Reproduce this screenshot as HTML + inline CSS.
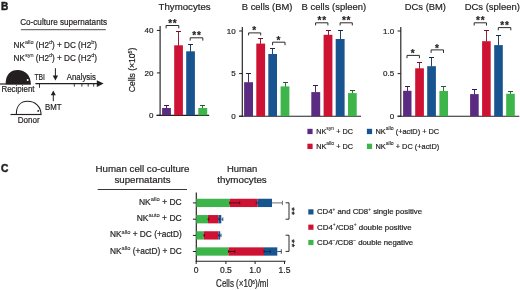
<!DOCTYPE html>
<html><head><meta charset="utf-8"><title>Figure</title>
<style>
html,body{margin:0;padding:0;background:#fff;}
body{width:520px;height:290px;overflow:hidden;font-family:"Liberation Sans",sans-serif;}
svg{display:block;}
text{font-family:"Liberation Sans",sans-serif;fill:#231f20;}
</style></head><body><div style="will-change:transform;width:520px;height:290px">
<svg width="520" height="290" viewBox="0 0 520 290">
<rect width="520" height="290" fill="#fff"/>
<text x="1.0" y="10.1" font-size="11.6" text-anchor="start" textLength="7.3" lengthAdjust="spacingAndGlyphs" stroke="#231f20" stroke-width="0.5" font-weight="bold">B</text>
<text x="20.2" y="25.2" font-size="8.5" text-anchor="start" textLength="86.8" lengthAdjust="spacingAndGlyphs" stroke="#231f20" stroke-width="0.2" >Co-culture supernatants</text>
<line x1="20.9" y1="29.7" x2="105.8" y2="29.7" stroke="#231f20" stroke-width="0.8"/>
<text x="13.6" y="47.9" font-size="8.5" text-anchor="start" textLength="83.5" lengthAdjust="spacingAndGlyphs" stroke="#231f20" stroke-width="0.2" >NK<tspan font-size="5.8" dy="-3.8" stroke-width="0.08">allo</tspan><tspan dy="3.8"> (H2</tspan><tspan font-size="5.8" dy="-3.8" stroke-width="0.08">d</tspan><tspan dy="3.8">) + DC (H2</tspan><tspan font-size="5.8" dy="-3.8" stroke-width="0.08">b</tspan><tspan dy="3.8">)</tspan></text>
<text x="13.6" y="61.2" font-size="8.5" text-anchor="start" textLength="83.5" lengthAdjust="spacingAndGlyphs" stroke="#231f20" stroke-width="0.2" >NK<tspan font-size="5.8" dy="-3.8" stroke-width="0.08">syn</tspan><tspan dy="3.8"> (H2</tspan><tspan font-size="5.8" dy="-3.8" stroke-width="0.08">d</tspan><tspan dy="3.8">) + DC (H2</tspan><tspan font-size="5.8" dy="-3.8" stroke-width="0.08">d</tspan><tspan dy="3.8">)</tspan></text>
<line x1="55.4" y1="68.2" x2="55.4" y2="77" stroke="#231f20" stroke-width="1.0"/>
<path d="M52.7,75.4 L55.4,80.5 L58.1,75.4 Z" fill="#231f20"/>
<line x1="35.4" y1="83.6" x2="98" y2="83.6" stroke="#231f20" stroke-width="1.1"/>
<path d="M96.8,80.3 L103.6,83.6 L96.8,86.9 Z" fill="#231f20"/>
<line x1="39.5" y1="83.6" x2="39.5" y2="87.8" stroke="#231f20" stroke-width="0.9"/>
<line x1="74.3" y1="83.6" x2="74.3" y2="86.6" stroke="#231f20" stroke-width="0.9"/>
<line x1="81.9" y1="83.6" x2="81.9" y2="86.6" stroke="#231f20" stroke-width="0.9"/>
<line x1="88.2" y1="83.6" x2="88.2" y2="86.6" stroke="#231f20" stroke-width="0.9"/>
<line x1="93.7" y1="83.6" x2="93.7" y2="86.6" stroke="#231f20" stroke-width="0.9"/>
<text x="34.4" y="80.3" font-size="8.5" text-anchor="start" textLength="10.6" lengthAdjust="spacingAndGlyphs" stroke="#231f20" stroke-width="0.2" >TBI</text>
<text x="66.8" y="80.3" font-size="8.5" text-anchor="start" textLength="29" lengthAdjust="spacingAndGlyphs" stroke="#231f20" stroke-width="0.2" >Analysis</text>
<path d="M5.6,84.2 C5.6,74.5 10.5,70.1 17.6,70.1 C25.2,70.1 30.8,75.5 30.8,84.2 Z" fill="#231f20"/>
<line x1="0" y1="84.0" x2="30.8" y2="84.0" stroke="#231f20" stroke-width="1.2"/>
<circle cx="27.7" cy="80" r="1" fill="#fff"/>
<text x="1.5" y="92.1" font-size="8.5" text-anchor="start" textLength="33" lengthAdjust="spacingAndGlyphs" stroke="#231f20" stroke-width="0.2" >Recipient</text>
<line x1="53.3" y1="94" x2="53.3" y2="101.2" stroke="#231f20" stroke-width="1.0"/>
<path d="M50.8,95.2 L53.3,90.6 L55.8,95.2 Z" fill="#231f20"/>
<text x="45.1" y="109.9" font-size="8.5" text-anchor="start" textLength="16.5" lengthAdjust="spacingAndGlyphs" stroke="#231f20" stroke-width="0.2" >BMT</text>
<path d="M16.3,114.5 C16.3,105.5 21,101.3 27.6,101.3 C35,101.3 41,106.2 41,114.5" fill="#fff" stroke="#231f20" stroke-width="1.05"/>
<line x1="10.5" y1="114.5" x2="41.5" y2="114.5" stroke="#231f20" stroke-width="1.15"/>
<circle cx="38.2" cy="110.9" r="0.95" fill="#231f20"/>
<text x="17.7" y="122.8" font-size="8.5" text-anchor="start" textLength="21.9" lengthAdjust="spacingAndGlyphs" stroke="#231f20" stroke-width="0.2" >Donor</text>
<text x="184.6" y="10.0" font-size="9.5" text-anchor="middle" textLength="52" lengthAdjust="spacingAndGlyphs" stroke="#231f20" stroke-width="0.2" >Thymocytes</text>
<text transform="translate(135.0,92.2) rotate(-90) scale(0.9217,1)" font-size="9.3" stroke="#231f20" stroke-width="0.2">Cells (×10<tspan font-size="5.5" dy="-3.2">6</tspan><tspan dy="3.2">)</tspan></text>
<line x1="160.1" y1="26.1" x2="160.1" y2="115.875" stroke="#231f20" stroke-width="1.15"/>
<line x1="156.9" y1="30.45" x2="160.1" y2="30.45" stroke="#231f20" stroke-width="1.0"/>
<text x="153.5" y="33.25" font-size="8" text-anchor="end" stroke="#231f20" stroke-width="0.2" >40</text>
<line x1="156.9" y1="72.9" x2="160.1" y2="72.9" stroke="#231f20" stroke-width="1.0"/>
<text x="153.5" y="75.7" font-size="8" text-anchor="end" stroke="#231f20" stroke-width="0.2" >20</text>
<line x1="156.9" y1="115.3" x2="160.1" y2="115.3" stroke="#231f20" stroke-width="1.0"/>
<text x="153.5" y="118.1" font-size="8" text-anchor="end" stroke="#231f20" stroke-width="0.2" >0</text>
<line x1="156.5" y1="115.3" x2="209.2" y2="115.3" stroke="#231f20" stroke-width="1.15"/>
<line x1="166.5" y1="105.5" x2="166.5" y2="108.5" stroke="#35184e" stroke-width="0.9"/>
<line x1="164.0" y1="105.5" x2="169.0" y2="105.5" stroke="#35184e" stroke-width="1"/>
<rect x="162.1" y="108" width="8.800000000000011" height="7.299999999999997" fill="#5b2b82"/>
<line x1="178.5" y1="31.5" x2="178.5" y2="45.8" stroke="#7a0f22" stroke-width="0.9"/>
<line x1="176.0" y1="31.5" x2="181.0" y2="31.5" stroke="#7a0f22" stroke-width="1"/>
<rect x="174.2" y="45.3" width="8.700000000000017" height="70.0" fill="#cd1233"/>
<line x1="190.5" y1="44.5" x2="190.5" y2="51.8" stroke="#0f2d52" stroke-width="0.9"/>
<line x1="188.0" y1="44.5" x2="193.0" y2="44.5" stroke="#0f2d52" stroke-width="1"/>
<rect x="186.2" y="51.3" width="8.700000000000017" height="64.0" fill="#185490"/>
<line x1="202.5" y1="105.5" x2="202.5" y2="108.5" stroke="#1f5c28" stroke-width="0.9"/>
<line x1="200.0" y1="105.5" x2="205.0" y2="105.5" stroke="#1f5c28" stroke-width="1"/>
<rect x="198.3" y="108" width="8.899999999999977" height="7.299999999999997" fill="#3db54a"/>
<path d="M166.1,28.3 V25.5 H178.8 V28.3" fill="none" stroke="#231f20" stroke-width="0.95"/>
<text x="172.85" y="27.0" font-size="10" text-anchor="middle" stroke="#231f20" stroke-width="0.2" font-weight="bold" letter-spacing="0.8">**</text>
<path d="M190.2,40.6 V37.8 H202.8 V40.6" fill="none" stroke="#231f20" stroke-width="0.95"/>
<text x="196.9" y="39.300000000000004" font-size="10" text-anchor="middle" stroke="#231f20" stroke-width="0.2" font-weight="bold" letter-spacing="0.8">**</text>
<text x="267.1" y="10.3" font-size="9.5" text-anchor="middle" textLength="50.6" lengthAdjust="spacingAndGlyphs" stroke="#231f20" stroke-width="0.2" >B cells (BM)</text>
<text x="333.9" y="10.3" font-size="9.5" text-anchor="middle" textLength="64.6" lengthAdjust="spacingAndGlyphs" stroke="#231f20" stroke-width="0.2" >B cells (spleen)</text>
<line x1="242.3" y1="26.9" x2="242.3" y2="116.775" stroke="#231f20" stroke-width="1.15"/>
<line x1="239.10000000000002" y1="31" x2="242.3" y2="31" stroke="#231f20" stroke-width="1.0"/>
<text x="235.70000000000002" y="33.8" font-size="8" text-anchor="end" stroke="#231f20" stroke-width="0.2" >10</text>
<line x1="239.10000000000002" y1="73.6" x2="242.3" y2="73.6" stroke="#231f20" stroke-width="1.0"/>
<text x="235.70000000000002" y="76.39999999999999" font-size="8" text-anchor="end" stroke="#231f20" stroke-width="0.2" >5</text>
<line x1="239.10000000000002" y1="116.2" x2="242.3" y2="116.2" stroke="#231f20" stroke-width="1.0"/>
<text x="235.70000000000002" y="119.0" font-size="8" text-anchor="end" stroke="#231f20" stroke-width="0.2" >0</text>
<line x1="238.9" y1="116.2" x2="361" y2="116.2" stroke="#231f20" stroke-width="1.15"/>
<line x1="248.5" y1="73.5" x2="248.5" y2="82.7" stroke="#35184e" stroke-width="0.9"/>
<line x1="246.0" y1="73.5" x2="251.0" y2="73.5" stroke="#35184e" stroke-width="1"/>
<rect x="244.1" y="82.2" width="8.900000000000006" height="34.0" fill="#5b2b82"/>
<line x1="260.5" y1="38.5" x2="260.5" y2="44.1" stroke="#7a0f22" stroke-width="0.9"/>
<line x1="258.0" y1="38.5" x2="263.0" y2="38.5" stroke="#7a0f22" stroke-width="1"/>
<rect x="256.3" y="43.6" width="8.800000000000011" height="72.6" fill="#cd1233"/>
<line x1="272.5" y1="48.5" x2="272.5" y2="54.5" stroke="#0f2d52" stroke-width="0.9"/>
<line x1="270.0" y1="48.5" x2="275.0" y2="48.5" stroke="#0f2d52" stroke-width="1"/>
<rect x="268.3" y="54" width="8.699999999999989" height="62.2" fill="#185490"/>
<line x1="285.5" y1="82.5" x2="285.5" y2="86.9" stroke="#1f5c28" stroke-width="0.9"/>
<line x1="283.0" y1="82.5" x2="288.0" y2="82.5" stroke="#1f5c28" stroke-width="1"/>
<rect x="280.6" y="86.4" width="8.799999999999955" height="29.799999999999997" fill="#3db54a"/>
<path d="M248.6,35.4 V32.9 H260.7 V35.4" fill="none" stroke="#231f20" stroke-width="0.95"/>
<text x="254.64999999999998" y="33.7" font-size="10" text-anchor="middle" stroke="#231f20" stroke-width="0.2" font-weight="bold" letter-spacing="0.8">*</text>
<path d="M272.6,45.2 V42.2 H285.0 V45.2" fill="none" stroke="#231f20" stroke-width="0.95"/>
<text x="278.8" y="43.900000000000006" font-size="10" text-anchor="middle" stroke="#231f20" stroke-width="0.2" font-weight="bold" letter-spacing="0.8">*</text>
<line x1="315.5" y1="85.5" x2="315.5" y2="92.6" stroke="#35184e" stroke-width="0.9"/>
<line x1="313.0" y1="85.5" x2="318.0" y2="85.5" stroke="#35184e" stroke-width="1"/>
<rect x="311.3" y="92.1" width="8.899999999999977" height="24.10000000000001" fill="#5b2b82"/>
<line x1="328.5" y1="30.5" x2="328.5" y2="35.3" stroke="#7a0f22" stroke-width="0.9"/>
<line x1="326.0" y1="30.5" x2="331.0" y2="30.5" stroke="#7a0f22" stroke-width="1"/>
<rect x="323.6" y="34.8" width="8.799999999999955" height="81.4" fill="#cd1233"/>
<line x1="340.5" y1="30.5" x2="340.5" y2="39.5" stroke="#0f2d52" stroke-width="0.9"/>
<line x1="338.0" y1="30.5" x2="343.0" y2="30.5" stroke="#0f2d52" stroke-width="1"/>
<rect x="335.7" y="39" width="8.900000000000034" height="77.2" fill="#185490"/>
<line x1="352.5" y1="90.5" x2="352.5" y2="93.6" stroke="#1f5c28" stroke-width="0.9"/>
<line x1="350.0" y1="90.5" x2="355.0" y2="90.5" stroke="#1f5c28" stroke-width="1"/>
<rect x="348.0" y="93.1" width="8.699999999999989" height="23.10000000000001" fill="#3db54a"/>
<path d="M315.6,25.4 V22.8 H327.9 V25.4" fill="none" stroke="#231f20" stroke-width="0.95"/>
<text x="322.15" y="24.4" font-size="10" text-anchor="middle" stroke="#231f20" stroke-width="0.2" font-weight="bold" letter-spacing="0.8">**</text>
<path d="M340.1,25.4 V22.8 H352.3 V25.4" fill="none" stroke="#231f20" stroke-width="0.95"/>
<text x="346.6" y="24.4" font-size="10" text-anchor="middle" stroke="#231f20" stroke-width="0.2" font-weight="bold" letter-spacing="0.8">**</text>
<text x="425.4" y="10.3" font-size="9.5" text-anchor="middle" textLength="41.2" lengthAdjust="spacingAndGlyphs" stroke="#231f20" stroke-width="0.2" >DCs (BM)</text>
<text x="492.3" y="10.3" font-size="9.5" text-anchor="middle" textLength="55.2" lengthAdjust="spacingAndGlyphs" stroke="#231f20" stroke-width="0.2" >DCs (spleen)</text>
<line x1="400.8" y1="26.9" x2="400.8" y2="116.775" stroke="#231f20" stroke-width="1.15"/>
<line x1="397.6" y1="31" x2="400.8" y2="31" stroke="#231f20" stroke-width="1.0"/>
<text x="394.2" y="33.8" font-size="8" text-anchor="end" stroke="#231f20" stroke-width="0.2" >1.0</text>
<line x1="397.6" y1="73.6" x2="400.8" y2="73.6" stroke="#231f20" stroke-width="1.0"/>
<text x="394.2" y="76.39999999999999" font-size="8" text-anchor="end" stroke="#231f20" stroke-width="0.2" >0.5</text>
<line x1="397.6" y1="116.2" x2="400.8" y2="116.2" stroke="#231f20" stroke-width="1.0"/>
<text x="394.2" y="119.0" font-size="8" text-anchor="end" stroke="#231f20" stroke-width="0.2" >0</text>
<line x1="397.5" y1="116.2" x2="519.3" y2="116.2" stroke="#231f20" stroke-width="1.15"/>
<line x1="407.5" y1="86.5" x2="407.5" y2="91.3" stroke="#35184e" stroke-width="0.9"/>
<line x1="405.0" y1="86.5" x2="410.0" y2="86.5" stroke="#35184e" stroke-width="1"/>
<rect x="403.1" y="90.8" width="8.399999999999977" height="25.400000000000006" fill="#5b2b82"/>
<line x1="419.5" y1="62.5" x2="419.5" y2="68.8" stroke="#7a0f22" stroke-width="0.9"/>
<line x1="417.0" y1="62.5" x2="422.0" y2="62.5" stroke="#7a0f22" stroke-width="1"/>
<rect x="415.2" y="68.3" width="8.699999999999989" height="47.900000000000006" fill="#cd1233"/>
<line x1="431.5" y1="57.5" x2="431.5" y2="66.7" stroke="#0f2d52" stroke-width="0.9"/>
<line x1="429.0" y1="57.5" x2="434.0" y2="57.5" stroke="#0f2d52" stroke-width="1"/>
<rect x="427.2" y="66.2" width="8.699999999999989" height="50.0" fill="#185490"/>
<line x1="443.5" y1="86.5" x2="443.5" y2="91.5" stroke="#1f5c28" stroke-width="0.9"/>
<line x1="441.0" y1="86.5" x2="446.0" y2="86.5" stroke="#1f5c28" stroke-width="1"/>
<rect x="439.4" y="91" width="8.600000000000023" height="25.200000000000003" fill="#3db54a"/>
<path d="M407.0,58.2 V55.4 H419.4 V58.2" fill="none" stroke="#231f20" stroke-width="0.95"/>
<text x="413.2" y="56.5" font-size="10" text-anchor="middle" stroke="#231f20" stroke-width="0.2" font-weight="bold" letter-spacing="0.8">*</text>
<path d="M431.1,52.9 V49.9 H443.5 V52.9" fill="none" stroke="#231f20" stroke-width="0.95"/>
<text x="437.3" y="51.7" font-size="10" text-anchor="middle" stroke="#231f20" stroke-width="0.2" font-weight="bold" letter-spacing="0.8">*</text>
<line x1="474.5" y1="89.5" x2="474.5" y2="94.6" stroke="#35184e" stroke-width="0.9"/>
<line x1="472.0" y1="89.5" x2="477.0" y2="89.5" stroke="#35184e" stroke-width="1"/>
<rect x="470.1" y="94.1" width="8.599999999999966" height="22.10000000000001" fill="#5b2b82"/>
<line x1="486.5" y1="30.5" x2="486.5" y2="41.7" stroke="#7a0f22" stroke-width="0.9"/>
<line x1="484.0" y1="30.5" x2="489.0" y2="30.5" stroke="#7a0f22" stroke-width="1"/>
<rect x="482.1" y="41.2" width="8.599999999999966" height="75.0" fill="#cd1233"/>
<line x1="498.5" y1="35.5" x2="498.5" y2="45.6" stroke="#0f2d52" stroke-width="0.9"/>
<line x1="496.0" y1="35.5" x2="501.0" y2="35.5" stroke="#0f2d52" stroke-width="1"/>
<rect x="494.2" y="45.1" width="8.600000000000023" height="71.1" fill="#185490"/>
<line x1="510.5" y1="91.5" x2="510.5" y2="94.3" stroke="#1f5c28" stroke-width="0.9"/>
<line x1="508.0" y1="91.5" x2="513.0" y2="91.5" stroke="#1f5c28" stroke-width="1"/>
<rect x="506.2" y="93.8" width="8.599999999999966" height="22.400000000000006" fill="#3db54a"/>
<path d="M474.2,25.5 V22.8 H486.5 V25.5" fill="none" stroke="#231f20" stroke-width="0.95"/>
<text x="480.75" y="24.4" font-size="10" text-anchor="middle" stroke="#231f20" stroke-width="0.2" font-weight="bold" letter-spacing="0.8">**</text>
<path d="M498.3,30.3 V27.6 H510.8 V30.3" fill="none" stroke="#231f20" stroke-width="0.95"/>
<text x="504.95" y="29.0" font-size="10" text-anchor="middle" stroke="#231f20" stroke-width="0.2" font-weight="bold" letter-spacing="0.8">**</text>
<rect x="307.4" y="128.8" width="5.2" height="5.3" fill="#5b2b82"/>
<text x="316.2" y="133.8" font-size="7.5" text-anchor="start" textLength="36.8" lengthAdjust="spacingAndGlyphs" stroke="#231f20" stroke-width="0.2" >NK<tspan font-size="5.2" dy="-3.4" stroke-width="0.08">syn</tspan><tspan dy="3.4"> + DC</tspan></text>
<rect x="366.9" y="128.8" width="5.2" height="5.3" fill="#185490"/>
<text x="375.5" y="133.8" font-size="7.5" text-anchor="start" textLength="63.7" lengthAdjust="spacingAndGlyphs" stroke="#231f20" stroke-width="0.2" >NK<tspan font-size="5.2" dy="-3.4" stroke-width="0.08">allo</tspan><tspan dy="3.4"> (+actD) + DC</tspan></text>
<rect x="307.4" y="143.7" width="5.2" height="5.3" fill="#cd1233"/>
<text x="316.2" y="148.8" font-size="7.5" text-anchor="start" textLength="36.8" lengthAdjust="spacingAndGlyphs" stroke="#231f20" stroke-width="0.2" >NK<tspan font-size="5.2" dy="-3.4" stroke-width="0.08">allo</tspan><tspan dy="3.4"> + DC</tspan></text>
<rect x="366.9" y="143.7" width="5.2" height="5.3" fill="#3db54a"/>
<text x="375.5" y="148.8" font-size="7.5" text-anchor="start" textLength="63.7" lengthAdjust="spacingAndGlyphs" stroke="#231f20" stroke-width="0.2" >NK<tspan font-size="5.2" dy="-3.4" stroke-width="0.08">allo</tspan><tspan dy="3.4"> + DC (+actD)</tspan></text>
<text x="0.9" y="171.7" font-size="11.6" text-anchor="start" textLength="7.4" lengthAdjust="spacingAndGlyphs" stroke="#231f20" stroke-width="0.5" font-weight="bold">C</text>
<text x="142.5" y="171.8" font-size="9.5" text-anchor="middle" textLength="94" lengthAdjust="spacingAndGlyphs" stroke="#231f20" stroke-width="0.2" >Human cell co-culture</text>
<text x="142.5" y="183.3" font-size="9.5" text-anchor="middle" textLength="56" lengthAdjust="spacingAndGlyphs" stroke="#231f20" stroke-width="0.2" >supernatants</text>
<line x1="97.7" y1="189.5" x2="187" y2="189.5" stroke="#231f20" stroke-width="0.9"/>
<text x="242.1" y="171.6" font-size="9.5" text-anchor="middle" textLength="30.4" lengthAdjust="spacingAndGlyphs" stroke="#231f20" stroke-width="0.2" >Human</text>
<text x="242" y="183.3" font-size="9.5" text-anchor="middle" textLength="49.5" lengthAdjust="spacingAndGlyphs" stroke="#231f20" stroke-width="0.2" >thymocytes</text>
<text x="181.7" y="205.2" font-size="8.5" text-anchor="end" textLength="42.7" lengthAdjust="spacingAndGlyphs" stroke="#231f20" stroke-width="0.2" >NK<tspan font-size="5.8" dy="-3.8" stroke-width="0.08">allo</tspan><tspan dy="3.8"> + DC</tspan></text>
<text x="181.7" y="221.2" font-size="8.5" text-anchor="end" textLength="45" lengthAdjust="spacingAndGlyphs" stroke="#231f20" stroke-width="0.2" >NK<tspan font-size="5.8" dy="-3.8" stroke-width="0.08">auto</tspan><tspan dy="3.8"> + DC</tspan></text>
<text x="181.7" y="237.4" font-size="8.5" text-anchor="end" textLength="71.7" lengthAdjust="spacingAndGlyphs" stroke="#231f20" stroke-width="0.2" >NK<tspan font-size="5.8" dy="-3.8" stroke-width="0.08">allo</tspan><tspan dy="3.8"> + DC (+actD)</tspan></text>
<text x="181.7" y="253.6" font-size="8.5" text-anchor="end" textLength="71.7" lengthAdjust="spacingAndGlyphs" stroke="#231f20" stroke-width="0.2" >NK<tspan font-size="5.8" dy="-3.8" stroke-width="0.08">allo</tspan><tspan dy="3.8"> (+actD) + DC</tspan></text>
<line x1="196.3" y1="192.5" x2="196.3" y2="261.775" stroke="#231f20" stroke-width="1.15"/>
<line x1="195.72500000000002" y1="261.2" x2="285.6" y2="261.2" stroke="#231f20" stroke-width="1.15"/>
<line x1="192.9" y1="202.9" x2="196.3" y2="202.9" stroke="#231f20" stroke-width="1.0"/>
<line x1="192.9" y1="219.2" x2="196.3" y2="219.2" stroke="#231f20" stroke-width="1.0"/>
<line x1="192.9" y1="235.4" x2="196.3" y2="235.4" stroke="#231f20" stroke-width="1.0"/>
<line x1="192.9" y1="251.5" x2="196.3" y2="251.5" stroke="#231f20" stroke-width="1.0"/>
<line x1="196.2" y1="261.2" x2="196.2" y2="264.0" stroke="#231f20" stroke-width="1.0"/>
<text x="196.2" y="273.3" font-size="8.5" text-anchor="middle" stroke="#231f20" stroke-width="0.2" >0</text>
<line x1="225.9" y1="261.2" x2="225.9" y2="264.0" stroke="#231f20" stroke-width="1.0"/>
<text x="225.9" y="273.3" font-size="8.5" text-anchor="middle" stroke="#231f20" stroke-width="0.2" >0.5</text>
<line x1="255.1" y1="261.2" x2="255.1" y2="264.0" stroke="#231f20" stroke-width="1.0"/>
<text x="255.1" y="273.3" font-size="8.5" text-anchor="middle" stroke="#231f20" stroke-width="0.2" >1.0</text>
<line x1="284.5" y1="261.2" x2="284.5" y2="264.0" stroke="#231f20" stroke-width="1.0"/>
<text x="284.5" y="273.3" font-size="8.5" text-anchor="middle" stroke="#231f20" stroke-width="0.2" >1.5</text>
<text transform="translate(216.1,287.3) scale(0.8024,1)" font-size="10" stroke="#231f20" stroke-width="0.2">Cells (×10<tspan font-size="5.8" dy="-3.4">6</tspan><tspan dy="3.4">)/ml</tspan></text>
<rect x="196.3" y="198.75" width="33.39999999999998" height="8.3" fill="#3db54a"/>
<rect x="229.7" y="198.75" width="28.0" height="8.3" fill="#cd1233"/>
<rect x="257.7" y="198.75" width="14.300000000000011" height="8.3" fill="#185490"/>
<line x1="229.7" y1="202.9" x2="239.7" y2="202.9" stroke="#3a0a12" stroke-width="0.8"/>
<line x1="239.7" y1="201.4" x2="239.7" y2="204.4" stroke="#3a0a12" stroke-width="0.8"/>
<line x1="229.7" y1="201.4" x2="229.7" y2="204.4" stroke="#3a0a12" stroke-width="0.8"/>
<line x1="256.3" y1="202.9" x2="259" y2="202.9" stroke="#0c2a4e" stroke-width="0.8"/>
<line x1="256.3" y1="201.4" x2="256.3" y2="204.4" stroke="#0c2a4e" stroke-width="0.8"/>
<line x1="272" y1="202.9" x2="282.4" y2="202.9" stroke="#4a4a4c" stroke-width="0.8"/>
<line x1="282.4" y1="200.70000000000002" x2="282.4" y2="205.1" stroke="#4a4a4c" stroke-width="0.8"/>
<rect x="196.3" y="215.04999999999998" width="11.699999999999989" height="8.3" fill="#3db54a"/>
<rect x="208" y="215.04999999999998" width="10.5" height="8.3" fill="#cd1233"/>
<rect x="218.5" y="215.04999999999998" width="2.8000000000000114" height="8.3" fill="#185490"/>
<line x1="207.3" y1="219.2" x2="208.8" y2="219.2" stroke="#3a0a12" stroke-width="0.8"/>
<line x1="208.8" y1="217.7" x2="208.8" y2="220.7" stroke="#3a0a12" stroke-width="0.8"/>
<line x1="217.8" y1="219.2" x2="219.2" y2="219.2" stroke="#0c2a4e" stroke-width="0.8"/>
<line x1="219.2" y1="217.7" x2="219.2" y2="220.7" stroke="#0c2a4e" stroke-width="0.8"/>
<line x1="221.3" y1="219.2" x2="222.8" y2="219.2" stroke="#0c2a4e" stroke-width="0.8"/>
<line x1="222.8" y1="217.39999999999998" x2="222.8" y2="221.0" stroke="#0c2a4e" stroke-width="0.8"/>
<rect x="196.3" y="231.25" width="7.399999999999977" height="8.3" fill="#3db54a"/>
<rect x="203.7" y="231.25" width="14.800000000000011" height="8.3" fill="#cd1233"/>
<rect x="218.5" y="231.25" width="1.6999999999999886" height="8.3" fill="#185490"/>
<line x1="203.2" y1="235.4" x2="204.3" y2="235.4" stroke="#3a0a12" stroke-width="0.8"/>
<line x1="204.3" y1="233.9" x2="204.3" y2="236.9" stroke="#3a0a12" stroke-width="0.8"/>
<line x1="217.8" y1="235.4" x2="219" y2="235.4" stroke="#0c2a4e" stroke-width="0.8"/>
<line x1="219" y1="233.9" x2="219" y2="236.9" stroke="#0c2a4e" stroke-width="0.8"/>
<line x1="220.2" y1="235.4" x2="221" y2="235.4" stroke="#0c2a4e" stroke-width="0.8"/>
<line x1="221" y1="233.6" x2="221" y2="237.20000000000002" stroke="#0c2a4e" stroke-width="0.8"/>
<rect x="196.3" y="247.35" width="32.19999999999999" height="8.3" fill="#3db54a"/>
<rect x="228.5" y="247.35" width="35.5" height="8.3" fill="#cd1233"/>
<rect x="264" y="247.35" width="13.300000000000011" height="8.3" fill="#185490"/>
<line x1="228.5" y1="251.5" x2="234.8" y2="251.5" stroke="#3a0a12" stroke-width="0.8"/>
<line x1="234.8" y1="250.0" x2="234.8" y2="253.0" stroke="#3a0a12" stroke-width="0.8"/>
<line x1="228.5" y1="250.0" x2="228.5" y2="253.0" stroke="#3a0a12" stroke-width="0.8"/>
<line x1="264" y1="251.5" x2="270.3" y2="251.5" stroke="#0c2a4e" stroke-width="0.8"/>
<line x1="270.3" y1="250.0" x2="270.3" y2="253.0" stroke="#0c2a4e" stroke-width="0.8"/>
<line x1="264" y1="250.0" x2="264" y2="253.0" stroke="#0c2a4e" stroke-width="0.8"/>
<line x1="277.3" y1="251.5" x2="281.3" y2="251.5" stroke="#0c2a4e" stroke-width="0.8"/>
<line x1="281.3" y1="249.2" x2="281.3" y2="253.8" stroke="#0c2a4e" stroke-width="0.8"/>
<path d="M285.6,202.8 H289 V219.2 H285.6" fill="none" stroke="#231f20" stroke-width="0.95"/>
<path d="M285.6,235.2 H289 V251.4 H285.6" fill="none" stroke="#231f20" stroke-width="0.95"/>
<text transform="translate(289.3,211.3) rotate(90)" font-size="9.5" letter-spacing="0.4" font-weight="bold" text-anchor="middle">**</text>
<text transform="translate(289.3,243.4) rotate(90)" font-size="9.5" letter-spacing="0.4" font-weight="bold" text-anchor="middle">**</text>
<rect x="308.3" y="209.3" width="5.2" height="5.2" fill="#185490"/>
<text x="317" y="214.1" font-size="7.5" text-anchor="start" textLength="105" lengthAdjust="spacingAndGlyphs" stroke="#231f20" stroke-width="0.2" >CD4<tspan font-size="4.6" dy="-3.2" stroke-width="0.08">+</tspan><tspan dy="3.2"> and CD8</tspan><tspan font-size="4.6" dy="-3.2" stroke-width="0.08">+</tspan><tspan dy="3.2"> single positive</tspan></text>
<rect x="308.3" y="224.6" width="5.2" height="5.2" fill="#cd1233"/>
<text x="317" y="229.5" font-size="7.5" text-anchor="start" textLength="94.6" lengthAdjust="spacingAndGlyphs" stroke="#231f20" stroke-width="0.2" >CD4<tspan font-size="4.6" dy="-3.2" stroke-width="0.08">+</tspan><tspan dy="3.2">/CD8</tspan><tspan font-size="4.6" dy="-3.2" stroke-width="0.08">+</tspan><tspan dy="3.2"> double positive</tspan></text>
<rect x="308.3" y="239.9" width="5.2" height="5.2" fill="#3db54a"/>
<text x="317" y="244.8" font-size="7.5" text-anchor="start" textLength="96.2" lengthAdjust="spacingAndGlyphs" stroke="#231f20" stroke-width="0.2" >CD4<tspan font-size="4.6" dy="-3.2" stroke-width="0.08">−</tspan><tspan dy="3.2">/CD8</tspan><tspan font-size="4.6" dy="-3.2" stroke-width="0.08">−</tspan><tspan dy="3.2"> double negative</tspan></text>
</svg></div></body></html>
